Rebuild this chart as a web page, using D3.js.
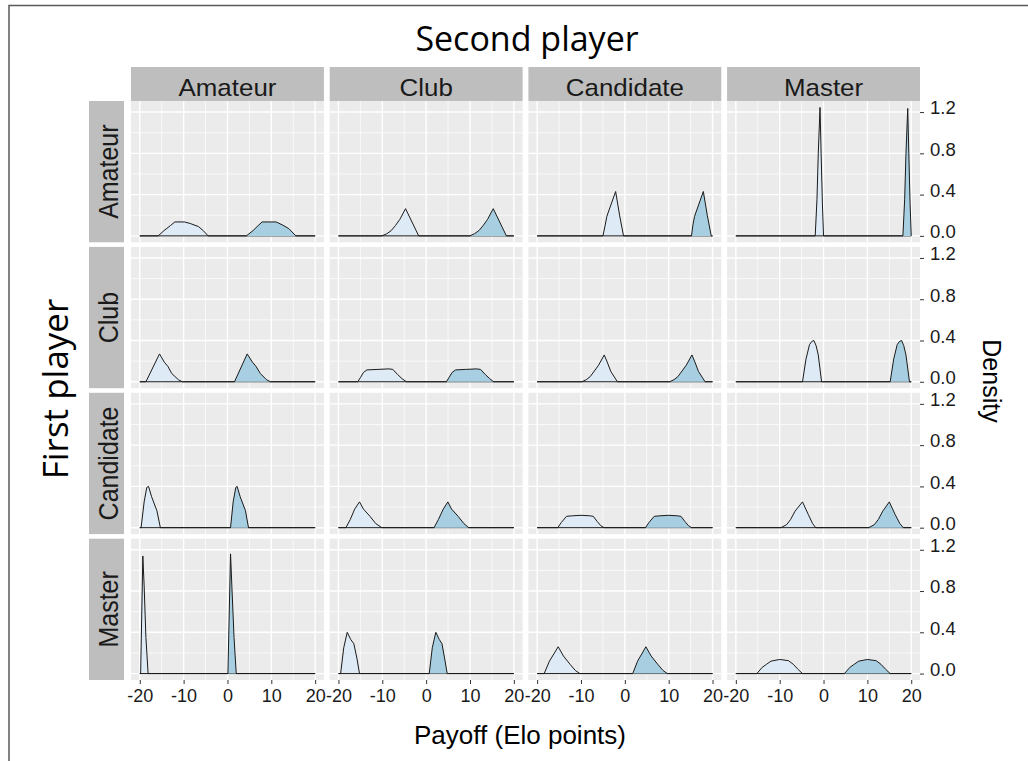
<!DOCTYPE html>
<html>
<head>
<meta charset="utf-8">
<script src="https://cdn.jsdelivr.net/npm/d3@7"></script>
<style>
  body { margin: 0; background: #ffffff; }
  svg { display: block; }
</style>
</head>
<body>
<svg id="chart" width="1028" height="761"></svg>
<script>
// Facet categories
const secondPlayer = ["Amateur", "Club", "Candidate", "Master"];
const firstPlayer = ["Amateur", "Club", "Candidate", "Master"];

// Axis ticks
const xTicks = [-20, -10, 0, 10, 20];
const xTickLabels = ["-20", "-10", "0", "10", "20"];
const xMinorTicks = [-15, -5, 5, 15];
const yTicks = [0, 0.4, 0.8, 1.2];
const yMinorTicks = [0.2, 0.6, 1.0];
const yTickLabels = ["0.0", "0.4", "0.8", "1.2"];
const payoffRange = [-20, 20];

// Density vertices [payoff, density] for the losing (negative) payoffs,
// one list per second-player column, for each first-player row.
const amateurLoss = [
  [[-15.8, 0], [-14.5, 0.05], [-13, 0.1], [-12, 0.135], [-9.8, 0.135], [-8.5, 0.12], [-6.6, 0.09], [-5.5, 0.05], [-4.4, 0]],
  [[-10.1, 0], [-9, 0.02], [-8, 0.05], [-7, 0.1], [-6, 0.16], [-4.7, 0.264], [-1.7, 0]],
  [[-5, 0], [-4.5, 0.1], [-4.1, 0.19], [-2.1, 0.43], [-1.2, 0.2], [-0.3, 0]],
  [[-1.9, 0], [-1.5, 0.35], [-1.2, 0.8], [-0.8, 1.245], [-0.55, 0.8], [-0.25, 0.3], [0, 0]]
];
const clubLoss = [
  [[-18.6, 0], [-15.5, 0.27], [-14.4, 0.19], [-13.6, 0.15], [-12.7, 0.08], [-11.2, 0.02], [-10.3, 0]],
  [[-15.6, 0], [-15, 0.04], [-14.3, 0.09], [-13.5, 0.115], [-11, 0.12], [-8.5, 0.125], [-7.6, 0.12], [-6.5, 0.07], [-5.5, 0.03], [-4.5, 0]],
  [[-9.8, 0], [-8.8, 0.02], [-7.9, 0.05], [-6, 0.16], [-4.7, 0.26], [-4.1, 0.2], [-3.2, 0.1], [-1.7, 0]],
  [[-4.8, 0], [-4, 0.22], [-3.2, 0.36], [-2.7, 0.39], [-2.2, 0.4], [-1.7, 0.35], [-1.2, 0.26], [-0.45, 0]]
];
const candidateLoss = [
  [[-19.7, 0], [-19, 0.25], [-18.4, 0.39], [-18, 0.4], [-17.3, 0.3], [-16.1, 0.165], [-15.3, 0]],
  [[-18.3, 0], [-17.3, 0.08], [-16.3, 0.18], [-15.2, 0.25], [-14.3, 0.18], [-12.8, 0.11], [-11.5, 0.04], [-10.1, 0]],
  [[-15.3, 0], [-14.5, 0.05], [-13.3, 0.11], [-12, 0.115], [-10, 0.12], [-8, 0.115], [-7.2, 0.11], [-6.3, 0.06], [-5.5, 0.02], [-4.75, 0]],
  [[-9.7, 0], [-8.4, 0.03], [-7.5, 0.08], [-6.5, 0.16], [-4.8, 0.25], [-3.5, 0.13], [-2.5, 0.04], [-1.8, 0]]
];
const masterLoss = [
  [[-19.8, 0], [-19.3, 1.14], [-19, 0.85], [-18.6, 0.35], [-18.1, 0]],
  [[-19.5, 0], [-18.8, 0.25], [-18, 0.4], [-17.2, 0.33], [-16.5, 0.29], [-15.8, 0.15], [-15.2, 0]],
  [[-18.4, 0], [-17.2, 0.12], [-15.2, 0.26], [-14, 0.17], [-12.5, 0.09], [-11.3, 0.03], [-10.25, 0]],
  [[-15.2, 0], [-14, 0.06], [-13, 0.09], [-12, 0.12], [-10, 0.137], [-8, 0.125], [-6.9, 0.09], [-5.8, 0.04], [-4.8, 0]]
];

// Density vertices for the winning (positive) payoffs.
const amateurWin = [
  [[4.3, 0], [5.8, 0.05], [7, 0.1], [7.9, 0.135], [11.1, 0.135], [12.6, 0.105], [14, 0.07], [15.6, 0]],
  [[9.9, 0], [11, 0.02], [12, 0.05], [13, 0.1], [14, 0.16], [15.3, 0.264], [18.3, 0]],
  [[15.2, 0], [15.5, 0.1], [15.9, 0.19], [17.9, 0.43], [18.8, 0.2], [19.7, 0]],
  [[18.1, 0], [18.5, 0.35], [18.8, 0.8], [19.2, 1.235], [19.45, 0.8], [19.75, 0.3], [20, 0]]
];
const clubWin = [
  [[1.6, 0], [4.5, 0.27], [5.7, 0.19], [6.5, 0.15], [7.5, 0.08], [8.9, 0.02], [9.8, 0]],
  [[4.6, 0], [5.2, 0.04], [5.9, 0.09], [6.7, 0.115], [9, 0.12], [11.5, 0.125], [12.4, 0.12], [13.5, 0.07], [14.5, 0.03], [15.4, 0]],
  [[10.2, 0], [11.2, 0.02], [12.1, 0.05], [14, 0.16], [15.3, 0.26], [15.9, 0.2], [16.8, 0.1], [18.3, 0]],
  [[15.2, 0], [16, 0.22], [16.8, 0.36], [17.3, 0.39], [17.8, 0.4], [18.3, 0.35], [18.8, 0.26], [19.6, 0]]
];
const candidateWin = [
  [[0.7, 0], [1.3, 0.25], [1.9, 0.39], [2.2, 0.4], [2.9, 0.3], [4.1, 0.165], [4.8, 0]],
  [[1.8, 0], [2.8, 0.08], [3.9, 0.18], [4.95, 0.25], [5.8, 0.18], [7.3, 0.11], [8.6, 0.04], [9.7, 0]],
  [[4.7, 0], [5.5, 0.05], [6.7, 0.11], [8, 0.115], [10, 0.12], [12, 0.115], [12.8, 0.11], [13.7, 0.06], [14.5, 0.02], [15.2, 0]],
  [[10.3, 0], [11.6, 0.03], [12.5, 0.08], [13.5, 0.16], [15, 0.25], [16.3, 0.13], [17.4, 0.04], [18.2, 0]]
];
const masterWin = [
  [[0.1, 0], [0.7, 1.16], [1, 0.85], [1.5, 0.35], [2, 0]],
  [[0.7, 0], [1.4, 0.25], [2.2, 0.4], [3, 0.33], [3.6, 0.29], [4.2, 0.15], [4.8, 0]],
  [[1.8, 0], [2.9, 0.12], [4.8, 0.26], [6, 0.17], [7.5, 0.09], [8.7, 0.03], [9.7, 0]],
  [[4.75, 0], [6, 0.06], [7, 0.09], [8, 0.12], [10, 0.137], [12, 0.125], [13.1, 0.09], [14.2, 0.04], [15.2, 0]]
];

const lossByRow = [amateurLoss, clubLoss, candidateLoss, masterLoss];
const winByRow = [amateurWin, clubWin, candidateWin, masterWin];

// ---- layout ----
const svg = d3.select("#chart");
const sansFont = "'Liberation Sans', Arial, sans-serif";
const titleFont = "'Open Sans', 'Noto Sans', sans-serif";

const colBand = d3.scaleBand().domain(secondPlayer).range([131, 920]).paddingInner(0.029);
const rowBand = d3.scaleBand().domain(firstPlayer).range([101, 680]).paddingInner(0.0315);
const pw = colBand.bandwidth();
const ph = rowBand.bandwidth();

// ggplot-like 5% expansion of the data ranges
const densityMax = d3.max([...lossByRow, ...winByRow].flat(2), p => p[1]);
const xPad = (payoffRange[1] - payoffRange[0]) * 0.05;
const x = d3.scaleLinear().domain([payoffRange[0] - xPad, payoffRange[1] + xPad]).range([0, pw]);
const y = d3.scaleLinear().domain([-densityMax * 0.05, densityMax * 1.05]).range([ph, 0]);

const area = d3.area().x(d => x(d[0])).y0(y(0)).y1(d => y(d[1])).curve(d3.curveLinear);
const line = d3.line().x(d => x(d[0])).y(d => y(d[1])).curve(d3.curveLinear);
const fullRange = pts => [[payoffRange[0], 0], ...pts, [payoffRange[1], 0]];

// text helper: position, horizontal stretch and rotation
function label(parent, txt, tx, ty, opts) {
  const g = parent.append("g")
    .attr("transform", `translate(${tx},${ty}) scale(${opts.sx || 1},1) rotate(${opts.rot || 0})`);
  g.append("text")
    .attr("text-anchor", opts.anchor || "middle")
    .attr("font-family", opts.font || sansFont)
    .attr("font-size", opts.size)
    .attr("fill", opts.color || "#1a1a1a")
    .text(txt);
  return g;
}

// outer frame
svg.append("path")
  .attr("d", "M9,761 V5.5 H1028")
  .attr("fill", "none").attr("stroke", "#5a5a5a").attr("stroke-width", 1.5);

// panels
firstPlayer.forEach((rowName, r) => {
  secondPlayer.forEach((colName, c) => {
    const g = svg.append("g").attr("transform", `translate(${colBand(colName)},${rowBand(rowName)})`);
    g.append("rect").attr("width", pw).attr("height", ph).attr("fill", "#ebebeb");

    g.selectAll(".vminor").data(xMinorTicks).join("line")
      .attr("x1", d => x(d)).attr("x2", d => x(d)).attr("y1", 0).attr("y2", ph)
      .attr("stroke", "#ffffff").attr("stroke-width", 0.7);
    g.selectAll(".hminor").data(yMinorTicks).join("line")
      .attr("y1", d => y(d)).attr("y2", d => y(d)).attr("x1", 0).attr("x2", pw)
      .attr("stroke", "#ffffff").attr("stroke-width", 0.7);
    g.selectAll(".vmajor").data(xTicks).join("line")
      .attr("x1", d => x(d)).attr("x2", d => x(d)).attr("y1", 0).attr("y2", ph)
      .attr("stroke", "#ffffff").attr("stroke-width", 1.4);
    g.selectAll(".hmajor").data(yTicks).join("line")
      .attr("y1", d => y(d)).attr("y2", d => y(d)).attr("x1", 0).attr("x2", pw)
      .attr("stroke", "#ffffff").attr("stroke-width", 1.4);

    const loss = fullRange(lossByRow[r][c]);
    const win = fullRange(winByRow[r][c]);
    g.append("path").attr("d", area(loss)).attr("fill", "#deeaf5");
    g.append("path").attr("d", line(loss)).attr("fill", "none").attr("stroke", "#1a1a1a").attr("stroke-width", 1);
    g.append("path").attr("d", area(win)).attr("fill", "#a8cfe1");
    g.append("path").attr("d", line(win)).attr("fill", "none").attr("stroke", "#1a1a1a").attr("stroke-width", 1);

    // bottom axis on last row
    if (r === firstPlayer.length - 1) {
      const ax = g.append("g").attr("transform", `translate(0,${ph})`)
        .call(d3.axisBottom(x).tickValues(xTicks).tickSize(4).tickPadding(5).tickFormat((d, i) => xTickLabels[i]));
      ax.select(".domain").remove();
      ax.selectAll(".tick line").attr("stroke", "#333333");
      ax.selectAll(".tick text").attr("font-family", sansFont).attr("font-size", 18).attr("fill", "#1a1a1a");
    }
    // right axis on last column
    if (c === secondPlayer.length - 1) {
      const ay = g.append("g").attr("transform", `translate(${pw},0)`)
        .call(d3.axisRight(y).tickValues(yTicks).tickSize(4).tickPadding(6).tickFormat((d, i) => yTickLabels[i]));
      ay.select(".domain").remove();
      ay.selectAll(".tick line").attr("stroke", "#333333");
      ay.selectAll(".tick text").attr("font-family", sansFont).attr("font-size", 18.5)
        .attr("fill", "#1a1a1a").attr("dy", "0.1em");
    }
  });
});

// column strips
secondPlayer.forEach(name => {
  svg.append("rect").attr("x", colBand(name)).attr("y", 67).attr("width", pw).attr("height", 34).attr("fill", "#bebebe");
  label(svg, name, colBand(name) + pw / 2, 95.5, { size: 24, sx: 1.08 });
});
// row strips
firstPlayer.forEach(name => {
  svg.append("rect").attr("x", 89).attr("y", rowBand(name)).attr("width", 35).attr("height", ph).attr("fill", "#bebebe");
  label(svg, name, 117.5, rowBand(name) + ph / 2, { size: 25, sx: 1.08, rot: -90 });
});

// titles
label(svg, "Second player", 527, 51, { size: 34, font: titleFont, color: "#000000" });
label(svg, "First player", 68, 389, { size: 35, font: titleFont, color: "#000000", rot: -90 });
label(svg, "Payoff (Elo points)", 520, 744, { size: 26, color: "#000000" });
label(svg, "Density", 983, 381, { size: 25, color: "#000000", rot: 90 });
</script>
</body>
</html>
